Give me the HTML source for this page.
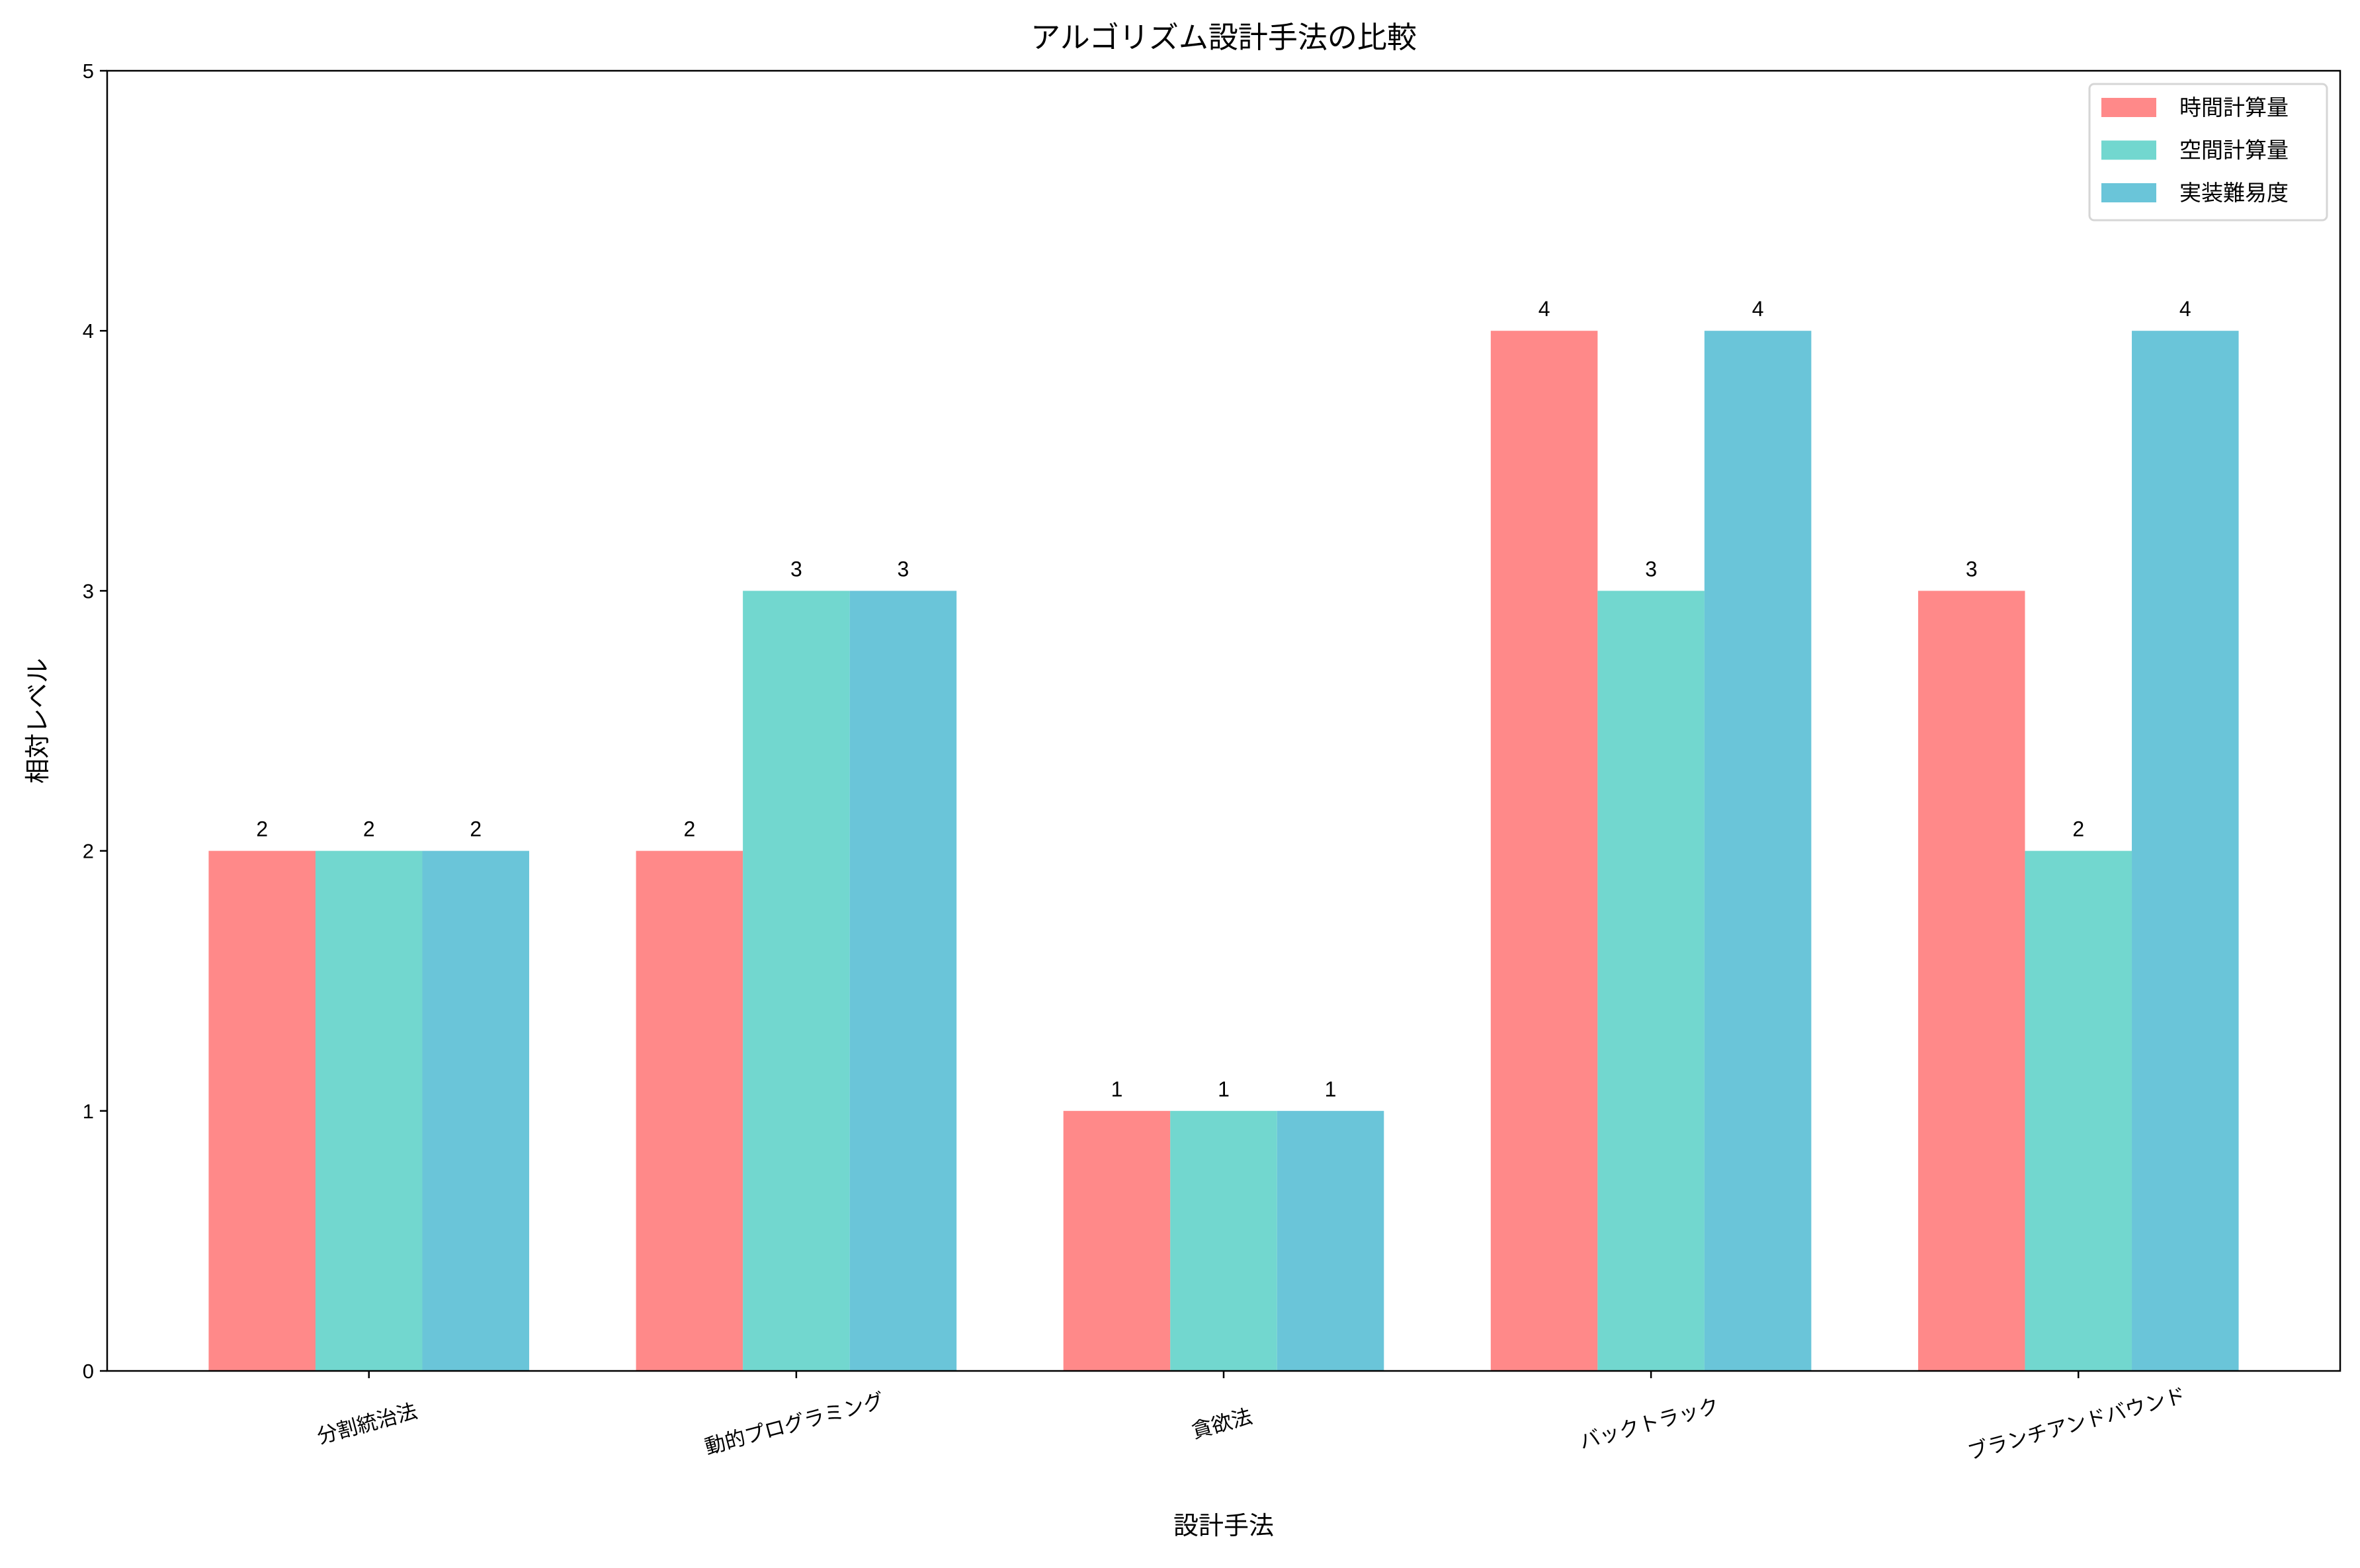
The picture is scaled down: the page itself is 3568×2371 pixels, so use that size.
<!DOCTYPE html>
<html><head><meta charset="utf-8"><style>
html,body{margin:0;padding:0;background:#fff}
svg{display:block;font-family:"Liberation Sans","Noto Sans CJK JP",sans-serif}
</style></head><body>
<svg id="chart" width="3568" height="2371" viewBox="0 0 3568 2371" xmlns="http://www.w3.org/2000/svg">
<rect x="0" y="0" width="3568" height="2371" fill="#fff"/>
<text x="1850" y="72" font-size="45" text-anchor="middle" fill="#000">アルゴリズム設計手法の比較</text>
<g id="bars"></g>
<g id="labels"></g>
<g id="yaxis"></g>
<g id="xaxis"></g>
<rect x="162" y="107" width="3376" height="1966" fill="none" stroke="#000" stroke-width="2.5"/>
<text x="1850" y="2320" font-size="38" text-anchor="middle" fill="#000">設計手法</text>
<text x="0" y="0" font-size="38" text-anchor="middle" fill="#000" transform="translate(70,1090) rotate(-90)">相対レベル</text>
<g id="legend">
<rect x="3159" y="127" width="359" height="206" rx="7" fill="#fff" fill-opacity="0.8" stroke="#d6d6d6" stroke-width="3"/>
</g>
</svg>
<script>
const categories = ["分割統治法","動的プログラミング","貪欲法","バックトラック","ブランチアンドバウンド"];
const seriesNames = ["時間計算量","空間計算量","実装難易度"];
const timeValues = [2,2,1,4,3];
const spaceValues = [2,3,1,3,2];
const difficultyValues = [2,3,1,4,4];
const yTicks = [0,1,2,3,4,5];

const series = [timeValues, spaceValues, difficultyValues];
const colors = ["#FF8989","#72D7CF","#6AC5D9"];
const NS = "http://www.w3.org/2000/svg";
const L=162, R=3538, T=107, B=2073;
const xMin=-0.6125, xMax=categories.length-1+0.6125, yMin=0, yMax=5;
const xs = v => L + (v-xMin)/(xMax-xMin)*(R-L);
const ys = v => B - (v-yMin)/(yMax-yMin)*(B-T);
const bw = 0.25;
function mk(tag, attrs, parent){const e=document.createElementNS(NS,tag);for(const k in attrs)e.setAttribute(k,attrs[k]);parent.appendChild(e);return e;}
const gb=document.getElementById('bars'), gl=document.getElementById('labels');
series.forEach((vals,s)=>{
  vals.forEach((v,i)=>{
    const c=i+(s-1)*bw;
    const r=mk('rect',{x:xs(c-bw/2),y:ys(v),width:xs(c+bw/2)-xs(c-bw/2),height:ys(0)-ys(v),fill:colors[s]},gb);
    
    
    const t=mk('text',{x:xs(c),y:ys(v)-22,'font-size':'32','text-anchor':'middle',fill:'#000'},gl);
    t.textContent=v;
    
    
  });
});
const gy=document.getElementById('yaxis');
yTicks.forEach(v=>{
  const l=mk('line',{x1:L-11,x2:L,y1:ys(v),y2:ys(v),stroke:'#000','stroke-width':2.5},gy);
  
  
  const t=mk('text',{x:L-20,y:ys(v)+11,'font-size':'31','text-anchor':'end',fill:'#000'},gy);
  t.textContent=v;
  
  
});
const gx=document.getElementById('xaxis');
categories.forEach((c,i)=>{
  const x=xs(i);
  const l=mk('line',{x1:x,x2:x,y1:B,y2:B+11,stroke:'#000','stroke-width':2.5},gx);
  
  
  const t=mk('text',{x:0,y:0,'font-size':'31','text-anchor':'middle',fill:'#000',transform:`translate(${x},2163) rotate(-15)`},gx);
  t.textContent=c;
  
  
});
const lg=document.getElementById('legend');
seriesNames.forEach((n,s)=>{
  const cy=162+s*64.5;
  const r=mk('rect',{x:3177,y:cy-14,width:83,height:29,fill:colors[s]},lg);
  
  
  const t=mk('text',{x:3295,y:cy+12,'font-size':'33',fill:'#000'},lg);
  t.textContent=n;
  
  
});
</script>
</body></html>
